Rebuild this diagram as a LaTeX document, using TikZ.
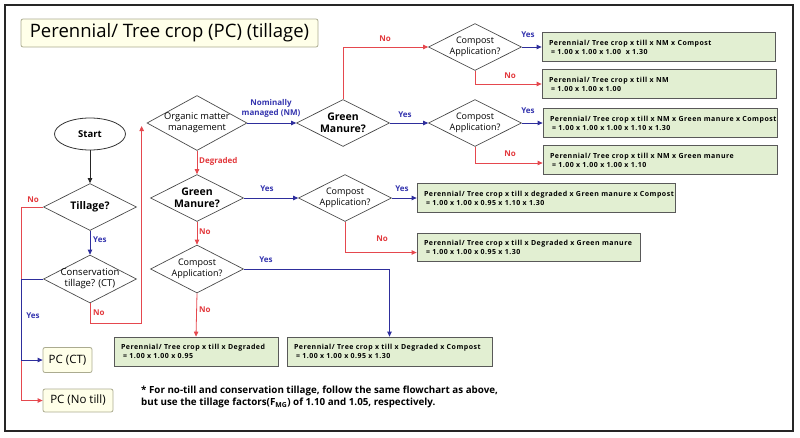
\documentclass[tikz,border=0pt]{standalone}
\usepackage{fontspec}
\setmainfont{Open Sans}
\newfontfamily\boxfont[LetterSpace=7]{Open Sans}
\usetikzlibrary{shapes.geometric,arrows.meta,calc}
\definecolor{boxgreen}{HTML}{E2EFD2}
\definecolor{boxline}{HTML}{595959}
\definecolor{titlefill}{HTML}{FFFFE9}
\definecolor{titleline}{HTML}{ABAB90}
\definecolor{noline}{HTML}{E5484E}
\definecolor{yesline}{HTML}{2E2E9C}
\definecolor{notext}{HTML}{E2383C}
\definecolor{yestext}{HTML}{3434AE}
\begin{document}
\begin{tikzpicture}[x=1pt,y=-1pt,
    dec/.style={diamond,draw=black!70,fill=white,line width=0.7pt,aspect=2,inner xsep=-14pt,inner ysep=-7pt,
      align=center,minimum width=93pt,minimum height=47pt,font=\fontsize{9}{10.5}\selectfont},
    decb/.style={dec,font=\fontsize{10.5}{12.5}\selectfont\bfseries},
    result/.style={rectangle,draw=boxline,fill=boxgreen,line width=0.8pt,align=left,
      inner xsep=7pt,text width=#1,minimum height=29pt,
      font=\fontsize{7}{8.8}\boxfont\bfseries},
    pcbox/.style={rectangle,rounded corners=2pt,draw=titleline,fill=titlefill,line width=0.8pt,
      font=\fontsize{11.5}{13}\selectfont},
    yesarr/.style={draw=yesline,line width=0.8pt,-{Triangle[length=5pt,width=4.5pt]}},
    noarr/.style={draw=noline,line width=0.8pt,-{Triangle[length=5pt,width=4.5pt]}},
    yeslab/.style={text=yestext,font=\fontsize{8}{9.5}\selectfont\bfseries,inner sep=0pt},
    nolab/.style={text=notext,font=\fontsize{8}{9.5}\selectfont\bfseries,inner sep=0pt}]
    \useasboundingbox (0,0) rectangle (800,437);
    % frame and title
    \draw[line width=2pt,black!85] (5,5) rectangle (793,431);
    \node[rectangle,rounded corners=2pt,draw=titleline,fill=titlefill,line width=0.8pt,
      minimum width=297pt,minimum height=28pt,font=\fontsize{18.5}{20}\selectfont] (title) at (169.5,33) {Perennial/ Tree crop (PC) (tillage)};
    % tillage branch
    \node[ellipse,draw=black!80,line width=0.8pt,minimum width=71pt,minimum height=32pt,
      font=\fontsize{9.5}{10}\selectfont\bfseries] (start) at (90,134) {Start};
    \node[decb] (till) at (90,207) {Tillage?};
    \node[dec,minimum height=48pt,font=\fontsize{9.5}{11}\selectfont] (ct) at (90,279) {Conservation\\tillage? (CT)};
    \node[pcbox,minimum width=49pt,minimum height=25pt] (pcct) at (67.5,360) {PC (CT)};
    \node[pcbox,minimum width=70pt,minimum height=23pt] (pcnt) at (78,400.5) {PC (No till)};
    % organic matter
    \node[dec,minimum width=100pt,minimum height=55pt,font=\fontsize{9.3}{11}\selectfont] (omm) at (197,123) {Organic matter\\management};
    \node[decb] (gmnm) at (343,123) {Green\\Manure?};
    \node[decb] (gmdg) at (197,198) {Green\\Manure?};
    \node[dec] (cpa) at (475,47) {Compost\\Application?};
    \node[dec] (cpb) at (475,123) {Compost\\Application?};
    \node[dec] (cpc) at (345,198) {Compost\\Application?};
    \node[dec,minimum height=48pt] (cpd) at (197,269) {Compost\\Application?};
    % results
    \node[result=219pt] (nma) at (658.5,47) {\mbox{Perennial/ Tree crop x till x NM x Compost}\\ \mbox{\hspace{2pt}= 1.00 x 1.00 x 1.00 \ x 1.30}};
    \node[result=220pt] (nmb) at (659,84) {\mbox{Perennial/ Tree crop x till x NM}\\ \mbox{\hspace{2pt}= 1.00 x 1.00 x 1.00}};
    \node[result=220pt] (nmc) at (660,123) {\mbox{Perennial/ Tree crop x till x NM x Green manure x Compost}\\ \mbox{\hspace{2pt}= 1.00 x 1.00 x 1.00 x 1.10 x 1.30}};
    \node[result=220pt] (nmd) at (660,160) {\mbox{Perennial/ Tree crop x till x NM x Green manure}\\ \mbox{\hspace{2pt}= 1.00 x 1.00 x 1.00 x 1.10}};
    \node[result=244pt] (dga) at (546,198) {\mbox{Perennial/ Tree crop x till x degraded x Green manure x Compost}\\ \mbox{\hspace{2pt}= 1.00 x 1.00 x 0.95 x 1.10 x 1.30}};
    \node[result=209pt,minimum height=28pt] (dgb) at (528.5,247.5) {\mbox{Perennial/ Tree crop x till x Degraded x Green manure}\\ \mbox{\hspace{2pt}= 1.00 x 1.00 x 0.95 x 1.30}};
    \node[result=150pt] (dgc) at (196,351.5) {\mbox{Perennial/ Tree crop x till x Degraded}\\ \mbox{\hspace{2pt}= 1.00 x 1.00 x 0.95}};
    \node[result=191pt] (dgd) at (389.5,351.5) {\mbox{Perennial/ Tree crop x till x Degraded x Compost}\\ \mbox{\hspace{2pt}= 1.00 x 1.00 x 0.95 x 1.30}};
    % connectors
    \draw[line width=0.8pt,black!85,-{Triangle[length=5pt,width=4.5pt]}] (start) -- (till);
    \draw[yesarr] (till) -- (ct);
    \draw[noarr] (till.west) -- ++(-22,0) |- (pcnt.west);
    \draw[yesarr] (ct.west) -- ++(-22,0) |- (pcct.west);
    \draw[noarr] (ct.south) -- ++(0,20) -| ([xshift=-5pt,yshift=-3pt]omm.west);
    \draw[yesarr] (omm.east) -- (gmnm.west);
    \draw[noarr] (omm.south) -- (gmdg.north);
    \draw[noarr] (gmnm.north) |- (cpa.west);
    \draw[yesarr] (gmnm.east) -- (cpb.west);
    \draw[yesarr] (cpa.east) -- (nma.west);
    \draw[noarr] (cpa.south) |- (nmb.west);
    \draw[yesarr] (cpb.east) -- (nmc.west);
    \draw[noarr] (cpb.south) |- ([yshift=-3pt]nmd.west);
    \draw[yesarr] (gmdg.east) -- (cpc.west);
    \draw[yesarr] (cpc.east) -- (dga.west);
    \draw[noarr] (cpc.south) |- ([yshift=-5pt]dgb.west);
    \draw[noarr] (gmdg.south) -- (cpd.north);
    \draw[noarr] (cpd.south) -- (dgc.north);
    \draw[yesarr] (cpd.east) -| (dgd.north);
    % labels
    \node[nolab] (lno1) at (33,200) {No};
    \node[yeslab,anchor=west] (lyes1) at (93,240) {Yes};
    \node[yeslab] (lyes2) at (33,316) {Yes};
    \node[nolab,anchor=west] (lno2) at (93,313) {No};
    \node[yeslab,align=center,font=\fontsize{8}{10}\selectfont\bfseries] (lnm) at (271,108) {Nominally\\managed (NM)};
    \node[nolab,anchor=west] (ldeg) at (199,161) {Degraded};
    \node[nolab] (lno3) at (385,39) {No};
    \node[yeslab] (lyes3) at (405,115) {Yes};
    \node[yeslab] (lyes4) at (528,35) {Yes};
    \node[nolab] (lno4) at (510,76) {No};
    \node[yeslab] (lyes5) at (528,111) {Yes};
    \node[nolab] (lno5) at (510,154) {No};
    \node[yeslab] (lyes6) at (267,189) {Yes};
    \node[yeslab] (lyes7) at (402,189) {Yes};
    \node[nolab] (lno6) at (382,239) {No};
    \node[nolab,anchor=west] (lno7) at (199,232) {No};
    \node[yeslab] (lyes8) at (266,260) {Yes};
    \node[nolab,anchor=west] (lno8) at (199,310) {No};
    % note
    \node[anchor=north west,align=left,inner sep=0pt,font=\fontsize{9.8}{12}\selectfont\bfseries] (note) at (141,386)
      {* For no-till and conservation tillage, follow the same flowchart as above,\\but use the tillage factors(F\textsubscript{MG}) of 1.10 and 1.05, respectively.};
\end{tikzpicture}
\end{document}
